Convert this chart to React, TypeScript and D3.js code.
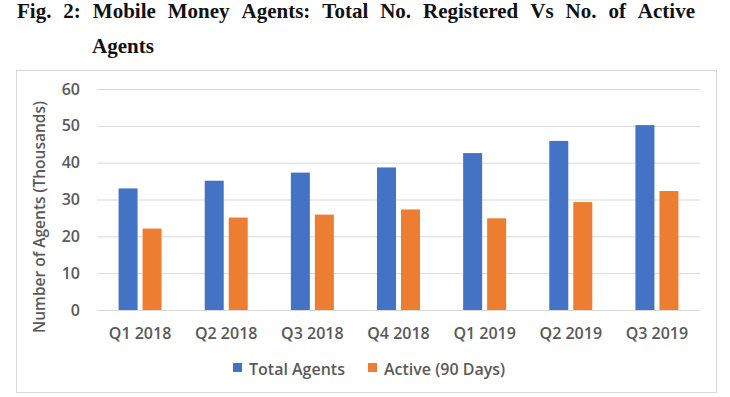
import React from 'react';
import * as d3 from 'd3';

const W = 730;
const H = 397;

const quarters = ['Q1 2018', 'Q2 2018', 'Q3 2018', 'Q4 2018', 'Q1 2019', 'Q2 2019', 'Q3 2019'];
const totalAgents = [33.0, 35.1, 37.3, 38.7, 42.6, 45.9, 50.2];
const activeAgents = [22.1, 25.1, 25.9, 27.3, 24.9, 29.3, 32.3];
const yTicks = [0, 10, 20, 30, 40, 50, 60];
const seriesNames = ['Total Agents', 'Active (90 Days)'];
const seriesColors = ['#4472C4', '#ED7D31'];

const titleLine1 = 'Fig. 2: Mobile Money Agents: Total No. Registered Vs No. of Active';
const titleLine2 = 'Agents';
const yTitle = 'Number of Agents (Thousands)';

const titleFont = "'Liberation Serif', 'Times New Roman', serif";
const axisFont = "'Open Sans', 'Noto Sans', sans-serif";
const textGray = '#595959';

// justified title line: spread words between x0 and x1
const justify = (line: string, x0: number, x1: number, size: number) => {
  const words = line.split(' ');
  const ctx = document.createElement('canvas').getContext('2d')!;
  ctx.font = `bold ${size}px ${titleFont}`;
  const widths = words.map(w => ctx.measureText(w).width);
  const gap = (x1 - x0 - d3.sum(widths)) / (words.length - 1);
  let cx = x0;
  return words.map((w, i) => {
    const pos = cx;
    cx += widths[i] + gap;
    return { w, x: pos };
  });
};

const App = () => {
  const plot = { left: 97, right: 700, top: 89, bottom: 310 };

  const x = d3.scaleBand().domain(quarters).range([plot.left, plot.right]);
  const y = d3.scaleLinear().domain([0, 60]).range([plot.bottom, plot.top]);

  // two bars per category, small gap between them
  const barW = 19;
  const gap = 5;
  const inner = d3
    .scaleOrdinal<number, number>()
    .domain([0, 1])
    .range([-(barW + gap / 2), gap / 2]);

  const titleWords = justify(titleLine1, 17, 695, 21);

  return (
    <div style={{ position: 'fixed', left: 0, top: 0 }}>
      <svg width={W} height={H} style={{ display: 'block', background: '#fff' }}>
        {/* figure title */}
        {titleWords.map((t, i) => (
          <text key={i} x={t.x} y={18} fontFamily={titleFont} fontWeight="bold" fontSize={21} fill="#111">
            {t.w}
          </text>
        ))}
        <text x={92} y={53} fontFamily={titleFont} fontWeight="bold" fontSize={21} fill="#111">
          {titleLine2}
        </text>

        {/* chart area border */}
        <rect x={16.5} y={70.5} width={700} height={322} fill="#fff" stroke="#d9d9d9" strokeWidth={1} />

        {/* gridlines + y tick labels */}
        {yTicks.map(t => (
          <g key={t}>
            <line x1={plot.left} x2={plot.right} y1={y(t) + 0.5} y2={y(t) + 0.5} stroke="#d9d9d9" strokeWidth={1} />
            <text
              x={80}
              y={y(t)}
              dy="0.35em"
              textAnchor="end"
              fontFamily={axisFont}
              fontWeight={600}
              fontSize={16}
              fill={textGray}
            >
              {t}
            </text>
          </g>
        ))}

        {/* bars */}
        {[totalAgents, activeAgents].map((vals, si) =>
          vals.map((v, i) => {
            const cx = x(quarters[i])! + x.bandwidth() / 2;
            return (
              <rect
                key={`${si}-${i}`}
                x={cx + inner(si)}
                y={y(v)}
                width={barW}
                height={y(0) - y(v)}
                fill={seriesColors[si]}
              />
            );
          })
        )}

        {/* x labels */}
        {quarters.map(q => (
          <text
            key={q}
            x={x(q)! + x.bandwidth() / 2}
            y={339}
            textAnchor="middle"
            fontFamily={axisFont}
            fontWeight={600}
            fontSize={16}
            fill={textGray}
          >
            {q}
          </text>
        ))}

        {/* y axis title */}
        <text
          transform="translate(45, 217) rotate(-90)"
          textAnchor="middle"
          fontFamily={axisFont}
          fontWeight={600}
          fontSize={15.5}
          fill={textGray}
        >
          {yTitle}
        </text>

        {/* legend */}
        {seriesNames.map((name, i) => {
          const lx = i === 0 ? 233 : 368;
          return (
            <g key={name}>
              <rect x={lx} y={363} width={9} height={9} fill={seriesColors[i]} />
              <text x={lx + 16} y={375} fontFamily={axisFont} fontWeight={600} fontSize={16} fill={textGray}>
                {name}
              </text>
            </g>
          );
        })}
      </svg>
    </div>
  );
};

export default App;
